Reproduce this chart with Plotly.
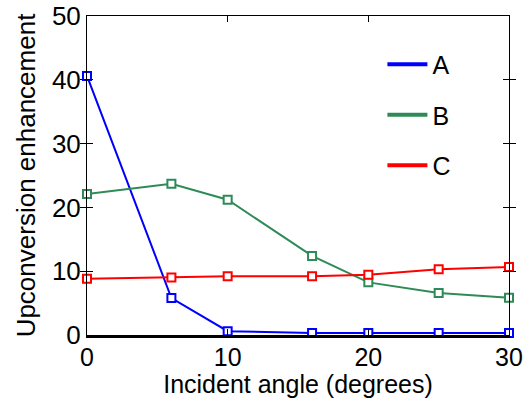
import plotly.graph_objects as go

angles = [0, 6, 10, 16, 20, 25, 30]
series_a = [40.6, 5.8, 0.6, 0.3, 0.3, 0.3, 0.3]
series_b = [22.1, 23.7, 21.2, 12.4, 8.25, 6.6, 5.85]
series_c = [8.8, 9.0, 9.2, 9.2, 9.45, 10.3, 10.65]
names = ["A", "B", "C"]
colors = ["#0000FF", "#2E8B57", "#FF0000"]
x_ticks = [0, 10, 20, 30]
y_ticks = [0, 10, 20, 30, 40, 50]

FONT = "Liberation Sans, Arial, Helvetica, sans-serif"

fig = go.Figure()
for name, vals, col in zip(names, [series_a, series_b, series_c], colors):
    fig.add_trace(go.Scatter(
        x=angles, y=vals, mode="lines+markers", name=name, showlegend=False,
        line=dict(color=col, width=2),
        marker=dict(symbol="square", size=8, color="white", line=dict(width=2, color=col)),
        cliponaxis=False,
    ))
for name, col in zip(names, colors):
    fig.add_trace(go.Scatter(
        x=[None], y=[None], mode="lines", name=name, legendgroup=name,
        line=dict(color=col, width=4),
    ))

fig.update_layout(
    width=524, height=398,
    margin=dict(l=87, r=15, t=16, b=63, autoexpand=False),
    paper_bgcolor="white", plot_bgcolor="white",
    font=dict(family=FONT, size=26, color="black"),
    showlegend=True,
    legend=dict(x=0.70, y=0.92, xanchor="left", yanchor="top",
                bgcolor="rgba(0,0,0,0)", font=dict(size=25),
                itemwidth=40, tracegroupgap=15),
    xaxis=dict(range=[0, 30], tickvals=x_ticks, ticks="inside", ticklen=6,
               tickcolor="black", showline=True, linecolor="black", linewidth=2.5,
               showgrid=False, zeroline=False, tickfont=dict(size=25), automargin=False,
               ticklabelstandoff=-2,
               title=dict(text="Incident angle (degrees)", font=dict(size=25), standoff=4)),
    xaxis2=dict(range=[0, 30], overlaying="x", side="top", matches="x",
                tickvals=x_ticks, ticks="inside", ticklen=6, tickcolor="black",
                showline=True, linecolor="black", linewidth=1, showticklabels=False,
                showgrid=False, zeroline=False, automargin=False),
    yaxis=dict(range=[0, 50], tickvals=y_ticks, ticks="inside", ticklen=6,
               tickcolor="black", showline=True, linecolor="black", linewidth=1,
               mirror="allticks", showgrid=False, zeroline=False, tickfont=dict(size=26),
               automargin=False,
               title=dict(text="Upconversion enhancement", font=dict(size=26), standoff=8)),
)
fig.add_trace(go.Scatter(x=[None], y=[None], xaxis="x2", showlegend=False, hoverinfo="skip"))

fig.write_html("out.html", config={"displayModeBar": False},
               post_script="document.body.style.margin='0';")
